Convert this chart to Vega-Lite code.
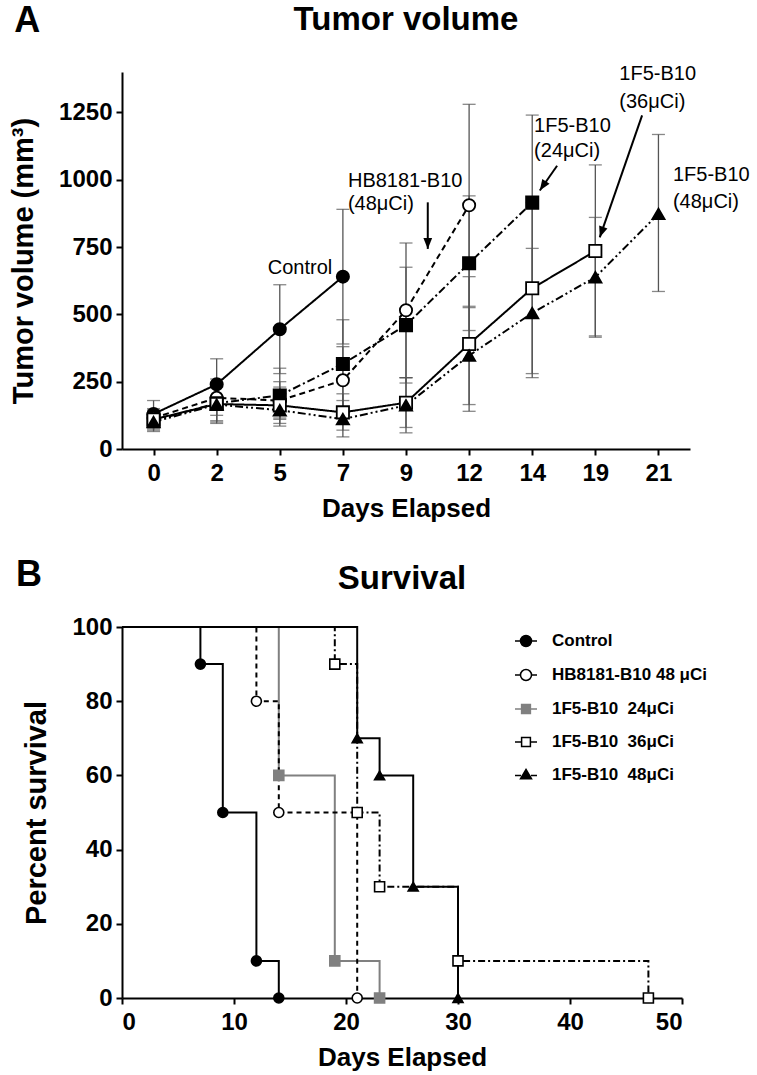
{
  "$schema": "https://vega.github.io/schema/vega-lite/v6.json",
  "background": "white",
  "padding": {"left": 9, "top": 2, "right": 2, "bottom": 2},
  "config": {
    "view": {"stroke": null},
    "font": "Liberation Sans",
    "axis": {
      "grid": false,
      "domainColor": "black",
      "domainWidth": 2,
      "tickColor": "black",
      "tickWidth": 2,
      "tickSize": 6,
      "labelFont": "Liberation Sans",
      "labelFontWeight": "bold",
      "labelFontSize": 24,
      "labelColor": "black",
      "titleFont": "Liberation Sans",
      "titleFontWeight": "bold",
      "titleFontSize": 26,
      "titleColor": "black"
    },
    "axisX": {"labelPadding": 6, "titlePadding": 10},
    "axisY": {"labelPadding": 4, "titlePadding": 20, "titleFontSize": 29},
    "title": {"font": "Liberation Sans", "fontSize": 33, "fontWeight": "bold", "color": "black", "frame": "group", "anchor": "middle"},
    "legend": {
      "labelFont": "Liberation Sans",
      "labelFontWeight": "bold",
      "labelFontSize": 17,
      "labelColor": "black",
      "symbolSize": 484,
      "symbolStrokeWidth": 1.5,
      "rowPadding": 13,
      "labelOffset": 14,
      "padding": 0
    }
  },
  "datasets": {
    "tumor": [
      {"series": "Control", "pos": 0, "v": 130, "lo": 80, "hi": 180},
      {"series": "Control", "pos": 1, "v": 240, "lo": 145, "hi": 335},
      {"series": "Control", "pos": 2, "v": 445, "lo": 280, "hi": 610},
      {"series": "Control", "pos": 3, "v": 640, "lo": 390, "hi": 890},
      {"series": "HB8181-B10", "pos": 0, "v": 115, "lo": 80, "hi": 150},
      {"series": "HB8181-B10", "pos": 1, "v": 190, "lo": 125, "hi": 260},
      {"series": "HB8181-B10", "pos": 2, "v": 180, "lo": 110, "hi": 250},
      {"series": "HB8181-B10", "pos": 3, "v": 255, "lo": 135, "hi": 380},
      {"series": "HB8181-B10", "pos": 4, "v": 515, "lo": 265, "hi": 765},
      {"series": "HB8181-B10", "pos": 5, "v": 905, "lo": 525, "hi": 1280},
      {"series": "1F5-B10 24", "pos": 0, "v": 105, "lo": 70, "hi": 140},
      {"series": "1F5-B10 24", "pos": 1, "v": 170, "lo": 105, "hi": 235},
      {"series": "1F5-B10 24", "pos": 2, "v": 199, "lo": 115, "hi": 300},
      {"series": "1F5-B10 24", "pos": 3, "v": 316, "lo": 150, "hi": 480},
      {"series": "1F5-B10 24", "pos": 4, "v": 460, "lo": 245, "hi": 675},
      {"series": "1F5-B10 24", "pos": 5, "v": 690, "lo": 440, "hi": 940},
      {"series": "1F5-B10 24", "pos": 6, "v": 915, "lo": 595, "hi": 1240},
      {"series": "1F5-B10 36", "pos": 0, "v": 110, "lo": 75, "hi": 145},
      {"series": "1F5-B10 36", "pos": 1, "v": 167, "lo": 95, "hi": 240},
      {"series": "1F5-B10 36", "pos": 2, "v": 162, "lo": 95, "hi": 230},
      {"series": "1F5-B10 36", "pos": 3, "v": 136, "lo": 70, "hi": 205},
      {"series": "1F5-B10 36", "pos": 4, "v": 172, "lo": 80, "hi": 265},
      {"series": "1F5-B10 36", "pos": 5, "v": 390, "lo": 140, "hi": 640},
      {"series": "1F5-B10 36", "pos": 6, "v": 597, "lo": 280, "hi": 915},
      {"series": "1F5-B10 36", "pos": 7, "v": 735, "lo": 415, "hi": 1055},
      {"series": "1F5-B10 48", "pos": 0, "v": 100, "lo": 65, "hi": 135},
      {"series": "1F5-B10 48", "pos": 1, "v": 165, "lo": 100, "hi": 230},
      {"series": "1F5-B10 48", "pos": 2, "v": 144, "lo": 85, "hi": 205},
      {"series": "1F5-B10 48", "pos": 3, "v": 111, "lo": 45, "hi": 180},
      {"series": "1F5-B10 48", "pos": 4, "v": 162, "lo": 60, "hi": 265},
      {"series": "1F5-B10 48", "pos": 5, "v": 347, "lo": 165, "hi": 530},
      {"series": "1F5-B10 48", "pos": 6, "v": 505, "lo": 265, "hi": 745},
      {"series": "1F5-B10 48", "pos": 7, "v": 638, "lo": 420, "hi": 860},
      {"series": "1F5-B10 48", "pos": 8, "v": 873, "lo": 585, "hi": 1168}
    ],
    "notes": [
      {"t": "Control", "x": 1.81, "y": 674},
      {"t": "HB8181-B10", "x": 3.08, "y": 996},
      {"t": "(48μCi)", "x": 3.08, "y": 910},
      {"t": "1F5-B10", "x": 6.03, "y": 1201},
      {"t": "(24μCi)", "x": 6.03, "y": 1108},
      {"t": "1F5-B10", "x": 7.38, "y": 1391},
      {"t": "(36μCi)", "x": 7.38, "y": 1287},
      {"t": "1F5-B10", "x": 8.23, "y": 1016},
      {"t": "(48μCi)", "x": 8.23, "y": 916}
    ],
    "arrows": [
      {"arrow": "HB", "x": 4.345, "y": 916, "x2": 4.345, "y2": 743},
      {"arrow": "24", "x": 6.394, "y": 1052, "x2": 6.12, "y2": 960},
      {"arrow": "36", "x": 7.741, "y": 1239, "x2": 7.07, "y2": 786}
    ],
    "survival": [
      {"group": "Control", "t": 0, "s": 100},
      {"group": "Control", "t": 7, "s": 90},
      {"group": "Control", "t": 9, "s": 50},
      {"group": "Control", "t": 12, "s": 10},
      {"group": "Control", "t": 14, "s": 0},
      {"group": "HB8181-B10 48 μCi", "t": 0, "s": 100},
      {"group": "HB8181-B10 48 μCi", "t": 12, "s": 80},
      {"group": "HB8181-B10 48 μCi", "t": 14, "s": 50},
      {"group": "HB8181-B10 48 μCi", "t": 21, "s": 0},
      {"group": "1F5-B10\u00a0 24μCi", "t": 0, "s": 100},
      {"group": "1F5-B10\u00a0 24μCi", "t": 14, "s": 60},
      {"group": "1F5-B10\u00a0 24μCi", "t": 19, "s": 10},
      {"group": "1F5-B10\u00a0 24μCi", "t": 23, "s": 0},
      {"group": "1F5-B10\u00a0 36μCi", "t": 0, "s": 100},
      {"group": "1F5-B10\u00a0 36μCi", "t": 19, "s": 90},
      {"group": "1F5-B10\u00a0 36μCi", "t": 21, "s": 50},
      {"group": "1F5-B10\u00a0 36μCi", "t": 23, "s": 30},
      {"group": "1F5-B10\u00a0 36μCi", "t": 30, "s": 10},
      {"group": "1F5-B10\u00a0 36μCi", "t": 47, "s": 0},
      {"group": "1F5-B10\u00a0 48μCi", "t": 0, "s": 100},
      {"group": "1F5-B10\u00a0 48μCi", "t": 21, "s": 70},
      {"group": "1F5-B10\u00a0 48μCi", "t": 23, "s": 60},
      {"group": "1F5-B10\u00a0 48μCi", "t": 26, "s": 30},
      {"group": "1F5-B10\u00a0 48μCi", "t": 30, "s": 0}
    ],
    "panelA": [{"label": "A", "x": -2.0, "y": 1590}],
    "panelB": [{"label": "B", "x": -8.3, "y": 114}]
  },
  "resolve": {
    "scale": {"x": "independent", "y": "independent", "shape": "independent", "fill": "independent", "stroke": "independent", "strokeDash": "independent", "color": "independent"},
    "legend": {"shape": "independent", "fill": "independent", "stroke": "independent", "strokeDash": "independent", "color": "independent"}
  },
  "spacing": 36,
  "vconcat": [
    {
      "width": 568,
      "height": 377,
      "title": {"text": "Tumor volume", "offset": -34},
      "layer": [
        {
          "data": {"name": "tumor"},
          "mark": {"type": "rule", "color": "#555555", "strokeWidth": 1.3},
          "encoding": {
            "x": {"field": "pos", "type": "quantitative", "title": "Days Elapsed",
                  "scale": {"domain": [-0.5, 8.5], "nice": false, "zero": false},
                  "axis": {"values": [0, 1, 2, 3, 4, 5, 6, 7, 8], "labelExpr": "['0','2','5','7','9','12','14','19','21'][datum.value]"}},
            "y": {"field": "lo", "type": "quantitative", "title": "Tumor volume (mm³)",
                  "scale": {"domain": [0, 1400], "nice": false},
                  "axis": {"values": [0, 250, 500, 750, 1000, 1250], "format": "d"}},
            "y2": {"field": "hi"}
          }
        },
        {
          "data": {"name": "tumor"},
          "mark": {"type": "tick", "orient": "horizontal", "size": 13, "thickness": 1.3, "color": "#555555"},
          "encoding": {
            "x": {"field": "pos", "type": "quantitative", "title": "Days Elapsed"},
            "y": {"field": "lo", "type": "quantitative", "title": "Tumor volume (mm³)"}
          }
        },
        {
          "data": {"name": "tumor"},
          "mark": {"type": "tick", "orient": "horizontal", "size": 13, "thickness": 1.3, "color": "#555555"},
          "encoding": {
            "x": {"field": "pos", "type": "quantitative", "title": "Days Elapsed"},
            "y": {"field": "hi", "type": "quantitative", "title": "Tumor volume (mm³)"}
          }
        },
        {
          "data": {"name": "tumor"},
          "mark": {"type": "line", "color": "black", "strokeWidth": 2},
          "encoding": {
            "x": {"field": "pos", "type": "quantitative", "title": "Days Elapsed"},
            "y": {"field": "v", "type": "quantitative", "title": "Tumor volume (mm³)"},
            "detail": {"field": "series"},
            "strokeDash": {"field": "series", "legend": null,
              "scale": {"domain": ["Control", "HB8181-B10", "1F5-B10 24", "1F5-B10 36", "1F5-B10 48"],
                        "range": [[1, 0], [6, 4], [8, 3, 2, 3], [1, 0], [8, 3, 2, 3, 2, 3]]}}
          }
        },
        {
          "data": {"name": "tumor"},
          "mark": {"type": "point", "size": 150, "strokeWidth": 1.8, "opacity": 1, "stroke": "black"},
          "encoding": {
            "x": {"field": "pos", "type": "quantitative", "title": "Days Elapsed"},
            "y": {"field": "v", "type": "quantitative", "title": "Tumor volume (mm³)"},
            "shape": {"field": "series", "legend": null,
              "scale": {"domain": ["Control", "HB8181-B10", "1F5-B10 24", "1F5-B10 36", "1F5-B10 48"],
                        "range": ["circle", "circle", "square", "square", "triangle-up"]}},
            "fill": {"field": "series", "legend": null,
              "scale": {"domain": ["Control", "HB8181-B10", "1F5-B10 24", "1F5-B10 36", "1F5-B10 48"],
                        "range": ["black", "white", "black", "white", "black"]}}
          }
        },
        {
          "data": {"name": "arrows"},
          "mark": {"type": "rule", "color": "black", "strokeWidth": 2},
          "encoding": {
            "x": {"field": "x", "type": "quantitative", "title": "Days Elapsed"},
            "y": {"field": "y", "type": "quantitative", "title": "Tumor volume (mm³)"},
            "x2": {"field": "x2"},
            "y2": {"field": "y2"}
          }
        },
        {
          "data": {"name": "arrows"},
          "transform": [{"filter": "datum.arrow === 'HB'"}],
          "mark": {"type": "point", "shape": "M0,0L-0.4,-1L0.4,-1Z", "size": 480, "filled": true, "color": "black", "opacity": 1, "angle": 0},
          "encoding": {
            "x": {"field": "x2", "type": "quantitative", "title": "Days Elapsed"},
            "y": {"field": "y2", "type": "quantitative", "title": "Tumor volume (mm³)"}
          }
        },
        {
          "data": {"name": "arrows"},
          "transform": [{"filter": "datum.arrow === '24'"}],
          "mark": {"type": "point", "shape": "M0,0L-0.4,-1L0.4,-1Z", "size": 480, "filled": true, "color": "black", "opacity": 1, "angle": 34},
          "encoding": {
            "x": {"field": "x2", "type": "quantitative", "title": "Days Elapsed"},
            "y": {"field": "y2", "type": "quantitative", "title": "Tumor volume (mm³)"}
          }
        },
        {
          "data": {"name": "arrows"},
          "transform": [{"filter": "datum.arrow === '36'"}],
          "mark": {"type": "point", "shape": "M0,0L-0.4,-1L0.4,-1Z", "size": 480, "filled": true, "color": "black", "opacity": 1, "angle": 19},
          "encoding": {
            "x": {"field": "x2", "type": "quantitative", "title": "Days Elapsed"},
            "y": {"field": "y2", "type": "quantitative", "title": "Tumor volume (mm³)"}
          }
        },
        {
          "data": {"name": "notes"},
          "mark": {"type": "text", "align": "left", "baseline": "middle", "fontSize": 20, "font": "Liberation Sans", "color": "black"},
          "encoding": {
            "x": {"field": "x", "type": "quantitative", "title": "Days Elapsed"},
            "y": {"field": "y", "type": "quantitative", "title": "Tumor volume (mm³)"},
            "text": {"field": "t"}
          }
        },
        {
          "data": {"name": "panelA"},
          "mark": {"type": "text", "align": "center", "baseline": "middle", "fontSize": 36, "fontWeight": "bold", "font": "Liberation Sans", "color": "black"},
          "encoding": {
            "x": {"field": "x", "type": "quantitative", "title": "Days Elapsed"},
            "y": {"field": "y", "type": "quantitative", "title": "Tumor volume (mm³)"},
            "text": {"field": "label"}
          }
        }
      ]
    },
    {
      "width": 560,
      "height": 371,
      "title": {"text": "Survival", "offset": -39},
      "resolve": {
        "scale": {"shape": "independent", "fill": "independent", "stroke": "independent"},
        "legend": {"shape": "independent", "fill": "independent", "stroke": "independent"}
      },
      "layer": [
        {
          "data": {"name": "survival"},
          "transform": [{"filter": "datum.group === '1F5-B10\u00a0 24μCi'"}],
          "mark": {"type": "line", "interpolate": "step-after", "color": "#808080", "strokeWidth": 2},
          "encoding": {
            "x": {"field": "t", "type": "quantitative", "title": "Days Elapsed",
                  "scale": {"domain": [0, 50], "nice": false},
                  "axis": {"values": [0, 10, 20, 30, 40, 50]}},
            "y": {"field": "s", "type": "quantitative", "title": "Percent survival",
                  "scale": {"domain": [0, 100], "nice": false},
                  "axis": {"values": [0, 20, 40, 60, 80, 100]}},
            "detail": {"field": "group"}
          }
        },
        {
          "data": {"name": "survival"},
          "transform": [{"filter": "datum.group !== '1F5-B10\u00a0 24μCi'"}],
          "mark": {"type": "line", "interpolate": "step-after", "color": "black", "strokeWidth": 2},
          "encoding": {
            "x": {"field": "t", "type": "quantitative", "title": "Days Elapsed"},
            "y": {"field": "s", "type": "quantitative", "title": "Percent survival"},
            "detail": {"field": "group"},
            "strokeDash": {"field": "group", "legend": null,
              "scale": {"domain": ["Control", "HB8181-B10 48 μCi", "1F5-B10\u00a0 36μCi", "1F5-B10\u00a0 48μCi"],
                        "range": [[1, 0], [5, 4], [7, 3, 2, 3], [1, 0]]}}
          }
        },
        {
          "data": {"name": "survival"},
          "transform": [{"filter": "datum.t > 0"}],
          "mark": {"type": "point", "size": 100, "strokeWidth": 1.6, "opacity": 1},
          "encoding": {
            "x": {"field": "t", "type": "quantitative", "title": "Days Elapsed"},
            "y": {"field": "s", "type": "quantitative", "title": "Percent survival"},
            "shape": {"field": "group", "legend": null,
              "scale": {"domain": ["Control", "HB8181-B10 48 μCi", "1F5-B10\u00a0 24μCi", "1F5-B10\u00a0 36μCi", "1F5-B10\u00a0 48μCi"],
                        "range": ["circle", "circle", "square", "square", "triangle-up"]}},
            "fill": {"field": "group", "legend": null,
              "scale": {"domain": ["Control", "HB8181-B10 48 μCi", "1F5-B10\u00a0 24μCi", "1F5-B10\u00a0 36μCi", "1F5-B10\u00a0 48μCi"],
                        "range": ["black", "white", "#808080", "white", "black"]}},
            "stroke": {"field": "group", "legend": null,
              "scale": {"domain": ["Control", "HB8181-B10 48 μCi", "1F5-B10\u00a0 24μCi", "1F5-B10\u00a0 36μCi", "1F5-B10\u00a0 48μCi"],
                        "range": ["black", "black", "#808080", "black", "black"]}}
          }
        },
        {
          "data": {"name": "survival"},
          "transform": [{"filter": "false"}],
          "mark": {"type": "point", "size": 100, "strokeWidth": 1.6, "opacity": 1},
          "encoding": {
            "x": {"field": "t", "type": "quantitative", "title": "Days Elapsed"},
            "y": {"field": "s", "type": "quantitative", "title": "Percent survival"},
            "shape": {"field": "group",
              "legend": {"orient": "none", "legendX": 392, "legendY": 2, "title": null},
              "scale": {"domain": ["Control", "HB8181-B10 48 μCi", "1F5-B10\u00a0 24μCi", "1F5-B10\u00a0 36μCi", "1F5-B10\u00a0 48μCi"],
                        "range": ["M-1,0H-0.5M0.5,0H1M-0.5,0A0.5,0.5 0 1,0 0.5,0A0.5,0.5 0 1,0 -0.5,0Z",
                                  "M-1,0H-0.5M0.5,0H1M-0.5,0A0.5,0.5 0 1,0 0.5,0A0.5,0.5 0 1,0 -0.5,0Z",
                                  "M-1,0H-0.4M0.4,0H1M-0.4,-0.4H0.4V0.4H-0.4Z",
                                  "M-1,0H-0.4M0.4,0H1M-0.4,-0.4H0.4V0.4H-0.4Z",
                                  "M-1,0.05H-0.45M0.45,0.05H1M0,-0.5L0.5,0.35L-0.5,0.35Z"]}},
            "fill": {"field": "group",
              "legend": {"orient": "none", "legendX": 392, "legendY": 2, "title": null},
              "scale": {"domain": ["Control", "HB8181-B10 48 μCi", "1F5-B10\u00a0 24μCi", "1F5-B10\u00a0 36μCi", "1F5-B10\u00a0 48μCi"],
                        "range": ["black", "white", "#808080", "white", "black"]}},
            "stroke": {"field": "group",
              "legend": {"orient": "none", "legendX": 392, "legendY": 2, "title": null},
              "scale": {"domain": ["Control", "HB8181-B10 48 μCi", "1F5-B10\u00a0 24μCi", "1F5-B10\u00a0 36μCi", "1F5-B10\u00a0 48μCi"],
                        "range": ["black", "black", "#808080", "black", "black"]}}
          }
        },
        {
          "data": {"name": "panelB"},
          "mark": {"type": "text", "align": "center", "baseline": "middle", "fontSize": 36, "fontWeight": "bold", "font": "Liberation Sans", "color": "black"},
          "encoding": {
            "x": {"field": "x", "type": "quantitative", "title": "Days Elapsed"},
            "y": {"field": "y", "type": "quantitative", "title": "Percent survival"},
            "text": {"field": "label"}
          }
        }
      ]
    }
  ]
}
